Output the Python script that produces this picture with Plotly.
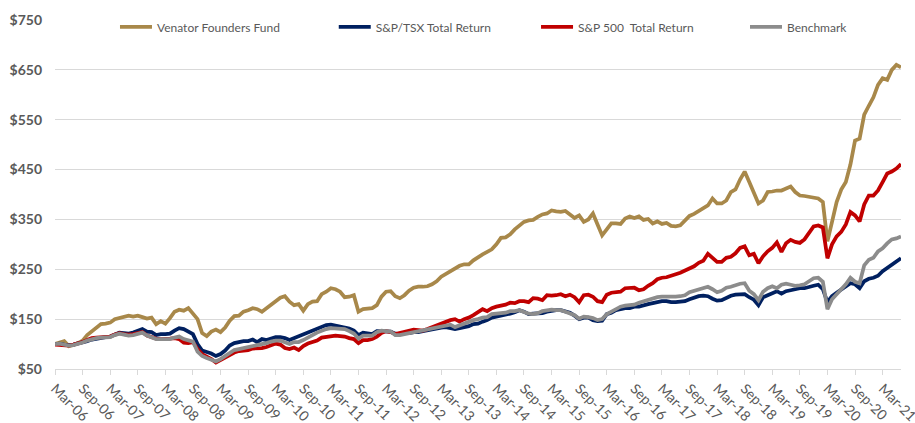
import plotly.graph_objects as go

# Month categories: Mar-06 .. Jul-21 (monthly)
MONTH_NAMES = ["Jan", "Feb", "Mar", "Apr", "May", "Jun", "Jul", "Aug", "Sep", "Oct", "Nov", "Dec"]
months = [f"{MONTH_NAMES[(2 + k) % 12]}-{(2006 + (2 + k) // 12) % 100:02d}" for k in range(185)]
tick_labels = months[::6]

venator = [
    100, 104, 106, 96, 98, 102, 107, 118, 126, 134, 140, 141, 143, 150, 153, 155, 157, 155, 157, 154,
    151, 153, 140, 146, 141, 152, 165, 169, 167, 172, 162, 150, 122, 116, 125, 129, 124, 133, 147, 156,
    157, 165, 168, 172, 170, 165, 172, 178, 186, 193, 196, 185, 178, 180, 167, 180, 185, 186, 200, 205,
    212, 210, 205, 194, 195, 198, 165, 170, 171, 172, 178, 195, 205, 206, 196, 192, 198, 207, 213, 215,
    215, 216, 220, 226, 235, 241, 247, 253, 257, 260, 260, 268, 275, 280, 285, 290, 300, 313, 314, 320,
    330, 338, 345, 348, 349, 355, 360, 362, 368, 366, 365, 367, 360, 353, 358, 345, 350, 362, 340, 318,
    330, 342, 342, 341, 352, 356, 353, 356, 349, 351, 342, 346, 341, 343, 337, 336, 338, 347, 357, 361,
    366, 373, 378, 392, 382, 382, 388, 405, 410, 430, 446, 425, 404, 382, 388, 405, 406, 408, 408, 412,
    416, 405, 398, 397, 395, 393, 392, 385, 306, 345, 385, 410, 425, 460, 508, 512, 560, 578, 595, 620,
    633, 630, 650, 660, 655,
]

tsx = [
    100, 101, 99, 98, 99, 101, 103, 106, 109, 111, 113, 114, 115, 120, 123, 122, 121, 123, 127, 130,
    125, 124, 118, 120, 120, 121, 127, 132, 130, 125, 120, 100, 87, 84, 81, 76, 80, 87, 97, 102,
    104, 106, 106, 109, 104, 110, 108, 112, 114, 114, 112, 108, 112, 116, 120, 124, 128, 131, 134, 138,
    139, 137, 136, 134, 131, 127, 118, 123, 121, 120, 126, 126, 126, 125, 121, 120, 122, 122, 124, 124,
    126, 128, 130, 131, 133, 134, 132, 130, 132, 134, 136, 140, 141, 145, 148, 153, 155, 156, 158, 161,
    164, 168, 165, 160, 161, 161, 162, 165, 167, 168, 168, 166, 163, 157, 150, 153, 153, 148, 146, 147,
    160, 163, 168, 170, 172, 172, 175, 175, 178, 180, 182, 184, 186, 186, 184, 184, 185, 186, 190, 193,
    196, 197, 196, 191, 187, 188, 193, 197, 199, 200, 200, 194, 189, 178, 194, 198, 202, 206, 201, 206,
    208, 210, 212, 212, 215, 217, 219, 210, 184, 196, 203, 209, 216, 222, 220, 212, 226, 231, 233, 237,
    246, 252, 258, 266, 272,
]

sp500 = [
    99, 98, 97, 97, 99, 101, 104, 108, 112, 113, 114, 115, 115, 119, 122, 120, 119, 120, 122, 124,
    117, 113, 111, 110, 110, 111, 112, 110, 103, 102, 104, 90, 80, 76, 70, 63, 68, 73, 79, 83,
    86, 87, 88, 91, 91, 92, 94, 98, 101, 99, 92, 90, 93, 88, 96, 101, 104, 107, 113, 114,
    115, 117, 116, 115, 112, 110, 102, 108, 108, 110, 115, 122, 126, 124, 120, 122, 124, 127, 129, 128,
    127, 130, 134, 137, 141, 144, 148, 150, 145, 150, 153, 158, 165, 170, 166, 172, 175, 177, 179, 183,
    182, 186, 186, 184, 192, 191, 188, 198, 197, 198, 200, 196, 199, 194, 184, 198, 199, 195, 186, 184,
    199, 203, 204, 205, 212, 213, 213, 208, 210, 217, 222, 230, 233, 234, 238, 240, 243, 247, 252, 256,
    263, 267, 281, 272, 265, 265, 273, 275, 282, 293, 296, 278, 281, 262, 276, 286, 293, 304, 285, 302,
    309, 305, 303, 310, 322, 336, 338, 334, 272, 300, 316, 325, 340, 365, 358, 346, 380, 398, 398, 408,
    425, 442, 446, 452, 461,
]

benchmark = [
    100, 101, 99, 97, 98, 100, 103, 107, 110, 112, 113, 114, 114, 118, 121, 119, 117, 118, 121, 123,
    117, 114, 110, 110, 110, 110, 113, 115, 110, 108, 105, 85, 76, 72, 69, 65, 70, 76, 83, 88,
    90, 92, 94, 96, 97, 100, 102, 105, 107, 107, 103, 100, 104, 104, 108, 114, 118, 123, 127, 130,
    132, 131, 130, 130, 126, 121, 111, 117, 117, 117, 124, 127, 126, 125, 118, 118, 120, 122, 124, 126,
    127, 129, 132, 134, 136, 137, 139, 134, 138, 142, 144, 148, 150, 153, 154, 160, 161, 162, 163, 166,
    166, 168, 165, 161, 160, 162, 166, 168, 169, 168, 168, 165, 162, 158, 151, 155, 154, 152, 148, 150,
    160, 165, 172, 175, 177, 178, 179, 183, 186, 188, 192, 194, 195, 195, 194, 195, 196, 198, 204, 207,
    210, 212, 215, 210, 204, 207, 213, 215, 218, 221, 222, 207, 200, 188, 205, 212, 216, 212, 219, 221,
    219, 217, 218, 220, 226, 232, 233, 225, 170, 190, 200, 210, 220, 233, 225, 222, 258, 269, 273, 286,
    292, 302, 310, 312, 316,
]

y_ticks = [50, 150, 250, 350, 450, 550, 650, 750]
y_tick_labels = [f"${v}" for v in y_ticks]

series = [
    ("Venator Founders Fund", venator, "#A8884A"),
    ("S&P/TSX Total Return", tsx, "#002060"),
    ("S&P 500  Total Return", sp500, "#C00000"),
    ("Benchmark", benchmark, "#8C8C8C"),
]

legend_ids = ["legend", "legend2", "legend3", "legend4"]
legend_x = [0.0709, 0.3295, 0.5686, 0.8156]

fig = go.Figure()
for (name, vals, color), lid in zip(series, legend_ids):
    fig.add_trace(go.Scatter(
        x=months, y=vals, name=name, mode="lines",
        line=dict(color=color, width=3.75),
        legend=lid,
        hoverinfo="skip",
    ))

legend_style = dict(
    orientation="h", xanchor="left", y=0.98, yanchor="middle",
    font=dict(size=12, color="#595959", family="Lato, Arial, sans-serif"),
    itemwidth=32, bgcolor="rgba(0,0,0,0)",
)

layout_legends = {lid: dict(legend_style, x=lx) for lid, lx in zip(legend_ids, legend_x)}

fig.update_layout(
    width=915, height=423,
    margin=dict(l=55, r=14, t=17, b=54),
    paper_bgcolor="white", plot_bgcolor="white",
    font=dict(family="Lato, Arial, sans-serif", color="#595959"),
    showlegend=True,
    **layout_legends,
)

fig.update_xaxes(
    type="category",
    range=[0, len(months) - 1],
    tickmode="array", tickvals=tick_labels, ticktext=tick_labels,
    tickangle=45,
    tickfont=dict(size=14, color="#595959"),
    showgrid=False,
    showline=True, linecolor="#D9D9D9", linewidth=1,
    ticks="outside", ticklen=5, tickcolor="#D9D9D9",
    automargin=False,
)

fig.update_yaxes(
    range=[50, 750],
    tickmode="array", tickvals=y_ticks, ticktext=y_tick_labels,
    tickfont=dict(size=14, color="#595959", family="Lato, Arial, sans-serif", weight="bold"),
    showgrid=True, gridcolor="#D9D9D9", gridwidth=1,
    zeroline=False, showline=False,
    ticklabelstandoff=12,
    automargin=False,
)

fig.write_html(
    "out.html",
    config={"displayModeBar": False},
    post_script="document.body.style.margin='0';",
)
